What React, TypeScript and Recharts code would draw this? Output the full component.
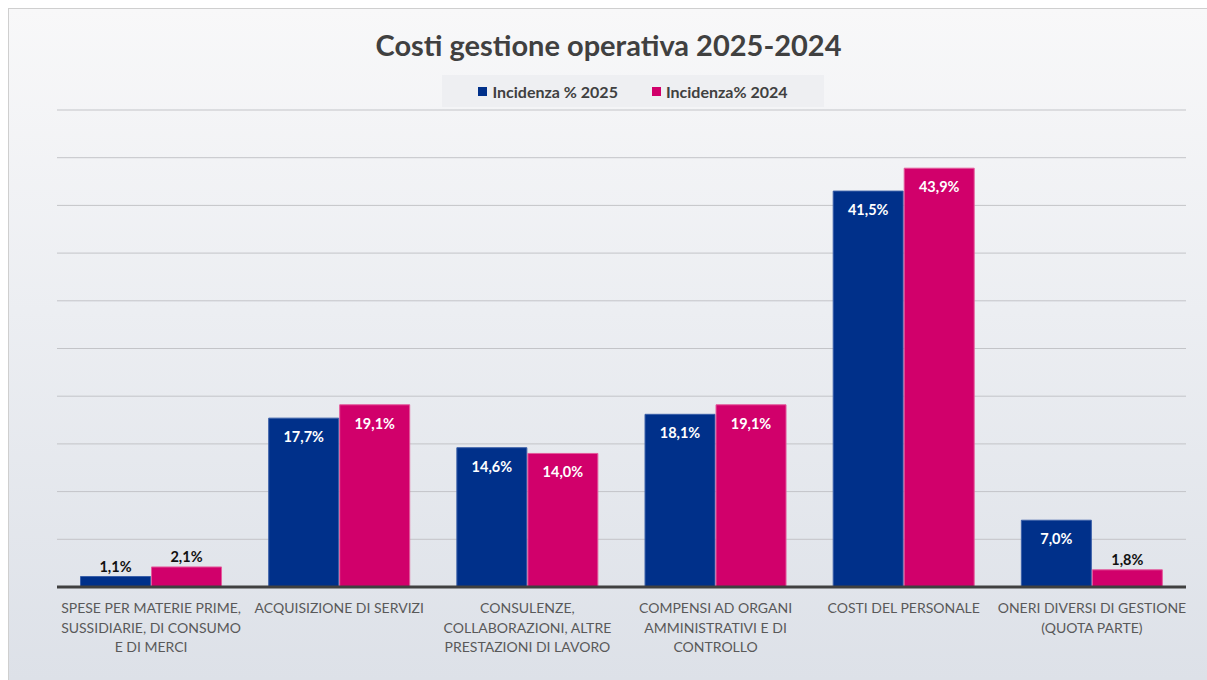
import { BarChart, Bar, XAxis, YAxis, CartesianGrid, LabelList } from 'recharts';

const categories = [
  'SPESE PER MATERIE PRIME,\nSUSSIDIARIE, DI CONSUMO\nE DI MERCI',
  'ACQUISIZIONE DI SERVIZI',
  'CONSULENZE,\nCOLLABORAZIONI, ALTRE\nPRESTAZIONI DI LAVORO',
  'COMPENSI AD ORGANI\nAMMINISTRATIVI E DI\nCONTROLLO',
  'COSTI DEL PERSONALE',
  'ONERI DIVERSI DI GESTIONE\n(QUOTA PARTE)',
];
const incidenza2025 = [1.1, 17.7, 14.6, 18.1, 41.5, 7.0];
const incidenza2024 = [2.1, 19.1, 14.0, 19.1, 43.9, 1.8];
const yTicks = [0, 5, 10, 15, 20, 25, 30, 35, 40, 45, 50];

const BLUE = '#00308A';
const MAGENTA = '#D1006B';
const FONT = 'Lato, "Open Sans", sans-serif';

const data = categories.map((c, i) => ({
  name: c,
  a2025: incidenza2025[i],
  a2024: incidenza2024[i],
}));

const fmt = (v: number) => v.toFixed(1).replace('.', ',') + '%';

// small bars get their label above, big bars inside in white
function BarLabel(props: any) {
  const { x, y, width, value } = props;
  const inside = value >= 5;
  return (
    <text
      x={x + width / 2}
      y={inside ? y + 24 : y - 5}
      textAnchor="middle"
      fill={inside ? '#ffffff' : '#111111'}
      fontSize={14.5}
      fontWeight={700}
      fontFamily={FONT}
    >
      {fmt(value)}
    </text>
  );
}

function CategoryTick(props: any) {
  const { x, y, payload } = props;
  const lines = String(payload.value).split('\n');
  return (
    <text x={x} y={y + 18} textAnchor="middle" fill="#595959" fontSize={14} fontFamily={FONT}>
      {lines.map((l, i) => (
        <tspan key={i} x={x} dy={i === 0 ? 0 : 19.5}>
          {l}
        </tspan>
      ))}
    </text>
  );
}

export default function App() {
  return (
    <div
      style={{
        position: 'fixed',
        top: 8,
        left: 8,
        width: 1199,
        height: 672,
        boxSizing: 'border-box',
        borderTop: '1px solid #cfcfcf',
        borderLeft: '1px solid #cfcfcf',
        background: 'linear-gradient(to bottom, #f8f8f9 0%, #eceef2 45%, #dde1e8 100%)',
        fontFamily: FONT,
        overflow: 'hidden',
      }}
    >
      <div
        style={{
          position: 'absolute',
          top: 18,
          left: 0,
          width: 1199,
          textAlign: 'center',
          fontSize: 29,
          fontWeight: 700,
          color: '#404040',
        }}
      >
        Costi gestione operativa 2025-2024
      </div>
      <div
        style={{
          position: 'absolute',
          top: 66,
          left: 433,
          width: 382,
          height: 32,
          background: '#eeeff2',
          display: 'flex',
          alignItems: 'center',
          justifyContent: 'center',
          gap: 34,
          fontSize: 16,
          fontWeight: 700,
          color: '#404040',
        }}
      >
        <span style={{ display: 'flex', alignItems: 'center', gap: 5 }}>
          <span style={{ width: 9, height: 9, background: BLUE, display: 'inline-block' }} />
          Incidenza % 2025
        </span>
        <span style={{ display: 'flex', alignItems: 'center', gap: 5 }}>
          <span style={{ width: 9, height: 9, background: MAGENTA, display: 'inline-block' }} />
          Incidenza% 2024
        </span>
      </div>
      <div style={{ position: 'absolute', top: 0, left: 0 }}>
        <BarChart
          width={1198}
          height={671}
          data={data}
          margin={{ top: 101, right: 21, left: 48, bottom: 0 }}
          barCategoryGap="12.5%"
          barGap={1}
        >
          <CartesianGrid horizontal vertical={false} stroke="#c3c4c8" strokeWidth={1} />
          <YAxis hide domain={[0, 50]} ticks={yTicks} />
          <XAxis
            dataKey="name"
            axisLine={{ stroke: '#404040', strokeWidth: 3 }}
            tickLine={false}
            interval={0}
            tick={<CategoryTick />}
            height={93}
          />
          <Bar dataKey="a2025" fill={BLUE} stroke="#3a5fa8" strokeWidth={1} isAnimationActive={false}>
            <LabelList dataKey="a2025" content={<BarLabel />} />
          </Bar>
          <Bar dataKey="a2024" fill={MAGENTA} stroke="#e45a9c" strokeWidth={1} isAnimationActive={false}>
            <LabelList dataKey="a2024" content={<BarLabel />} />
          </Bar>
        </BarChart>
      </div>
    </div>
  );
}
